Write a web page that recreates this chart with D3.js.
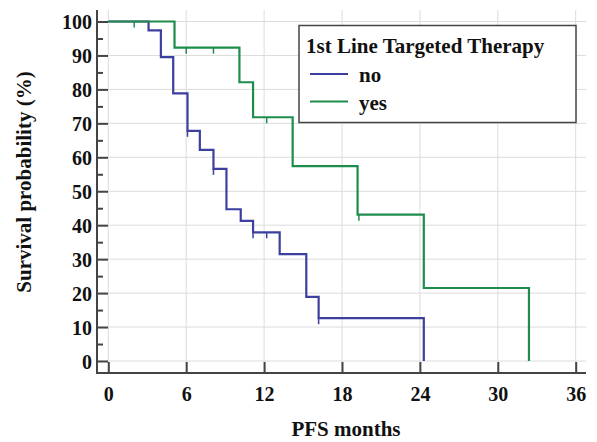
<!DOCTYPE html>
<html>
<head>
<meta charset="utf-8">
<title>PFS Kaplan-Meier</title>
<style>
body { margin: 0; background: #fff; }
svg text { font-family: "Liberation Serif", "Times New Roman", serif; font-weight: bold; fill: #111; }
.grid line { stroke: #dcdcdc; stroke-width: 1px; }
.axis line, .axis path { stroke: #444; stroke-width: 2px; }
.km { fill: none; stroke-width: 2.2px; }
</style>
<script src="https://d3js.org/d3.v7.min.js"></script>
</head>
<body>
<svg id="chart" width="597" height="442"></svg>
<script>
// data
var xTicks = [0, 6, 12, 18, 24, 30, 36];
var yTicks = [0, 10, 20, 30, 40, 50, 60, 70, 80, 90, 100];
var yMinor = [5, 15, 25, 35, 45, 55, 65, 75, 85, 95];

var noTimes = [0, 3.1, 4.05, 5.0, 6.1, 7.05, 8.1, 9.1, 10.2, 11.15, 13.2, 15.25, 16.2, 24.3];
var noSurv  = [100, 97.4, 89.5, 78.8, 67.8, 62.2, 56.6, 44.7, 41.3, 37.9, 31.5, 18.9, 12.6, 0];
var noCensored = [6.1, 8.1, 11.15, 12.2, 16.2];

var yesTimes = [0, 5.1, 10.1, 11.15, 14.2, 19.2, 24.3, 32.4];
var yesSurv  = [100, 92.3, 82.1, 71.8, 57.4, 43.1, 21.5, 0];
var yesCensored = [2.0, 6.0, 8.1, 12.2, 19.3];

var groups = ["no", "yes"];
var colors = ["#3d3f9f", "#1e8c4b"];

var svg = d3.select("#chart");

var x = d3.scaleLinear().domain([0, 36]).range([108.3, 575.7]);
var y = d3.scaleLinear().domain([0, 100]).range([361, 21.5]);

var axisX = 97, axisY = 373, topY = 10, rightX = 586;

// grid
var grid = svg.append("g").attr("class", "grid");
grid.selectAll(".h").data(yTicks).enter().append("line")
  .attr("x1", axisX).attr("x2", rightX)
  .attr("y1", function(d) { return y(d); }).attr("y2", function(d) { return y(d); });
grid.selectAll(".v").data(xTicks).enter().append("line")
  .attr("y1", topY).attr("y2", axisY)
  .attr("x1", function(d) { return x(d); }).attr("x2", function(d) { return x(d); });

// y axis
var gy = svg.append("g").attr("class", "axis")
  .attr("transform", "translate(" + axisX + ",0)")
  .call(d3.axisLeft(y).tickValues(yTicks).tickSize(-11).tickPadding(5));
gy.select(".domain").remove();
gy.selectAll("text").style("font-size", "20px").attr("dy", "0.36em");

var gym = svg.append("g").attr("class", "axis")
  .attr("transform", "translate(" + axisX + ",0)")
  .call(d3.axisLeft(y).tickValues(yMinor).tickSize(-6).tickFormat(""));
gym.select(".domain").remove();

// x axis
var gx = svg.append("g").attr("class", "axis")
  .attr("transform", "translate(0," + axisY + ")")
  .call(d3.axisBottom(x).tickValues(xTicks).tickSize(-11).tickPadding(14));
gx.select(".domain").remove();
gx.selectAll("text").style("font-size", "20px");

svg.append("line").attr("x1", axisX).attr("x2", axisX).attr("y1", topY).attr("y2", axisY + 1)
  .attr("stroke", "#444").attr("stroke-width", 2);
svg.append("line").attr("x1", axisX - 1).attr("x2", rightX).attr("y1", axisY).attr("y2", axisY)
  .attr("stroke", "#444").attr("stroke-width", 2);

// titles
svg.append("text")
  .attr("x", 346).attr("y", 436)
  .attr("text-anchor", "middle")
  .style("font-size", "21px")
  .text("PFS months");

svg.append("text")
  .attr("transform", "rotate(-90)")
  .attr("x", -182).attr("y", 31)
  .attr("text-anchor", "middle")
  .style("font-size", "21px")
  .text("Survival probability (%)");

// curves
var line = d3.line()
  .x(function(d) { return x(d[0]); })
  .y(function(d) { return y(d[1]); })
  .curve(d3.curveStepAfter);

function survAt(times, surv, t) {
  var s = surv[0];
  for (var i = 0; i < times.length; i++) if (times[i] <= t) s = surv[i];
  return s;
}

var series = [
  { times: noTimes, surv: noSurv, cens: noCensored },
  { times: yesTimes, surv: yesSurv, cens: yesCensored }
];

series.forEach(function(s, i) {
  var pts = d3.zip(s.times, s.surv);
  svg.append("path")
    .datum(pts)
    .attr("class", "km")
    .attr("stroke", colors[i])
    .attr("d", line);
  svg.selectAll(".c" + i).data(s.cens).enter().append("line")
    .attr("stroke", colors[i]).attr("stroke-width", 1.5)
    .attr("x1", function(d) { return x(d); }).attr("x2", function(d) { return x(d); })
    .attr("y1", function(d) { return y(survAt(s.times, s.surv, d)); })
    .attr("y2", function(d) { return y(survAt(s.times, s.surv, d)) + 6; });
});

// legend
var lg = svg.append("g");
lg.append("rect")
  .attr("x", 299).attr("y", 25.5).attr("width", 277).attr("height", 97)
  .attr("fill", "#fff").attr("stroke", "#444").attr("stroke-width", 1.5);
lg.append("text").attr("x", 306).attr("y", 53).style("font-size", "21px")
  .text("1st Line Targeted Therapy");
groups.forEach(function(g, i) {
  var ly = 74 + i * 27.5;
  lg.append("line").attr("x1", 310).attr("x2", 348).attr("y1", ly).attr("y2", ly)
    .attr("stroke", colors[i]).attr("stroke-width", 2);
  lg.append("text").attr("x", 359).attr("y", ly + 8).style("font-size", "21px").text(g);
});
</script>
</body>
</html>
